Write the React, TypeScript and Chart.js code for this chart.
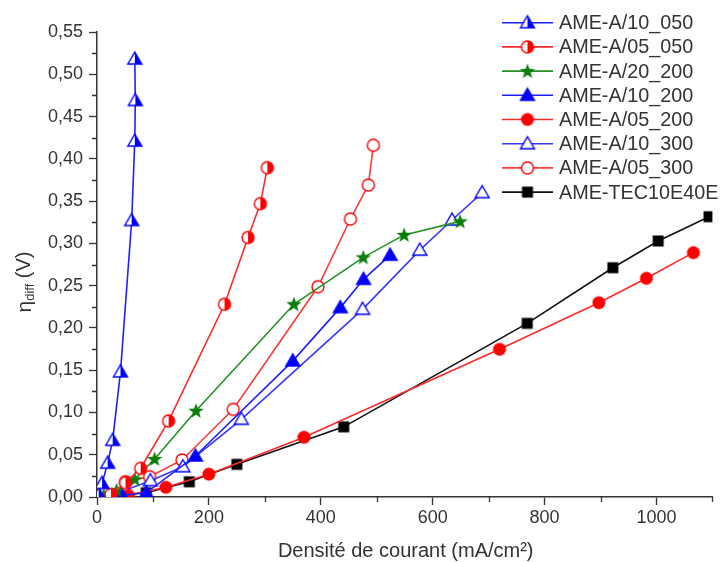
import React, { useEffect, useRef } from "react";
import { Chart, registerables } from "chart.js";

Chart.register(...registerables);

// ---- data (x: mA/cm², y: V) ----
const s1x = [3, 9, 19, 28, 42, 62, 67.5, 68.5, 67.5];
const s1y = [0.003, 0.016, 0.040, 0.067, 0.148, 0.327, 0.421, 0.469, 0.518];

const s2x = [25, 51, 78, 128, 228, 270, 292, 304.5];
const s2y = [0.003, 0.017, 0.034, 0.090, 0.228, 0.307, 0.347, 0.3895];

const s3x = [12, 35, 67.5, 103, 177, 352, 476, 549, 649];
const s3y = [0.002, 0.008, 0.021, 0.045, 0.102, 0.228, 0.2835, 0.310, 0.326];

const s4x = [45, 88, 176, 350, 435, 476.4, 524];
const s4y = [0.002, 0.005, 0.0485, 0.161, 0.224, 0.2575, 0.286];

const s5x = [56, 123, 200, 370, 719.5, 897, 982, 1066];
const s5y = [0.002, 0.0115, 0.027, 0.0706, 0.1747, 0.2298, 0.2587, 0.289];

const s6x = [50, 95.5, 153.4, 258, 474.7, 577, 634.7, 688.5];
const s6y = [0.008, 0.0193, 0.0358, 0.0919, 0.222, 0.292, 0.3276, 0.36];

const s7x = [51, 94, 152, 243.5, 395, 453, 485, 494];
const s7y = [0.018, 0.024, 0.0438, 0.1037, 0.2487, 0.3288, 0.369, 0.416];

const s8x = [30, 88, 165, 250, 441, 769, 922, 1003, 1094];
const s8y = [0.0024, 0.005, 0.018, 0.0386, 0.083, 0.2054, 0.2712, 0.3028, 0.3315];

const seriesNames = [
  "AME-A/10_050",
  "AME-A/05_050",
  "AME-A/20_200",
  "AME-A/10_200",
  "AME-A/05_200",
  "AME-A/10_300",
  "AME-A/05_300",
  "AME-TEC10E40E",
];

const xTickValues = [0, 200, 400, 600, 800, 1000];
const xMinorValues = [100, 300, 500, 700, 900, 1100];
const yMinorValues = [0.025, 0.075, 0.125, 0.175, 0.225, 0.275, 0.325, 0.375, 0.425, 0.475, 0.525];

const FONT = '"Liberation Sans", Arial, sans-serif';
const TEXT = "#333333";

const BLUE = "#0000ff";
const RED = "#ff0000";
const GREEN = "#0a7d0a";
const BLACK = "#000000";

function makeMarker(kind: string, color: string): HTMLCanvasElement {
  const s = 18;
  const c = document.createElement("canvas");
  c.width = s;
  c.height = s;
  const g = c.getContext("2d")!;
  const m = s / 2;
  g.lineWidth = 1.4;
  g.strokeStyle = color;
  g.fillStyle = color;
  const tri = () => {
    g.beginPath();
    g.moveTo(m, m - 7);
    g.lineTo(m + 7, m + 5);
    g.lineTo(m - 7, m + 5);
    g.closePath();
  };
  const circ = (r: number) => {
    g.beginPath();
    g.arc(m, m, r, 0, Math.PI * 2);
  };
  const half = (shape: () => void) => {
    shape();
    g.fillStyle = "#ffffff";
    g.fill();
    g.save();
    g.beginPath();
    g.rect(m, 0, m, s);
    g.clip();
    shape();
    g.fillStyle = color;
    g.fill();
    g.restore();
    shape();
    g.stroke();
  };
  switch (kind) {
    case "tri":
      tri();
      g.fill();
      g.stroke();
      break;
    case "triOpen":
      tri();
      g.fillStyle = "#ffffff";
      g.fill();
      g.stroke();
      break;
    case "triHalf":
      half(tri);
      break;
    case "circle":
      circ(6.5);
      g.fill();
      break;
    case "circleOpen":
      circ(6);
      g.fillStyle = "#ffffff";
      g.fill();
      g.stroke();
      break;
    case "circleHalf":
      half(() => circ(6));
      break;
    case "square":
      g.fillRect(m - 5.5, m - 5.5, 11, 11);
      break;
    case "star": {
      g.beginPath();
      for (let i = 0; i < 10; i++) {
        const r = i % 2 === 0 ? 8 : 3.3;
        const a = -Math.PI / 2 + (i * Math.PI) / 5;
        const px = m + r * Math.cos(a);
        const py = m + 0.5 + r * Math.sin(a);
        if (i === 0) g.moveTo(px, py);
        else g.lineTo(px, py);
      }
      g.closePath();
      g.fill();
      break;
    }
  }
  return c;
}

const pts = (xs: number[], ys: number[]) => xs.map((x, i) => ({ x, y: ys[i] }));

export default function App() {
  const ref = useRef<HTMLCanvasElement | null>(null);

  useEffect(() => {
    if (!ref.current) return;
    const markers = [
      makeMarker("triHalf", BLUE),
      makeMarker("circleHalf", RED),
      makeMarker("star", GREEN),
      makeMarker("tri", BLUE),
      makeMarker("circle", RED),
      makeMarker("triOpen", BLUE),
      makeMarker("circleOpen", RED),
      makeMarker("square", BLACK),
    ];
    const lineColors = ["#1f1fff", "#ff2a2a", "#249124", "#1f1fff", "#ff2a2a", "#3a3aff", "#ff3a3a", "#111111"];
    const xs = [s1x, s2x, s3x, s4x, s5x, s6x, s7x, s8x];
    const ys = [s1y, s2y, s3y, s4y, s5y, s6y, s7y, s8y];

    const datasets = seriesNames.map((name, i) => ({
      label: name,
      data: pts(xs[i], ys[i]),
      showLine: true,
      borderColor: lineColors[i],
      borderWidth: 1.6,
      pointStyle: markers[i] as any,
      pointRadius: 7,
      tension: 0,
    }));

    const extras = {
      id: "extras",
      afterDraw(chart: any) {
        const ctx = chart.ctx;
        const xs = chart.scales.x;
        const ysc = chart.scales.y;
        const area = chart.chartArea;
        ctx.save();
        // minor ticks
        ctx.strokeStyle = TEXT;
        ctx.lineWidth = 1.3;
        ctx.beginPath();
        yMinorValues.forEach((v) => {
          const p = Math.round(ysc.getPixelForValue(v)) + 0.5;
          ctx.moveTo(area.left - 5, p);
          ctx.lineTo(area.left, p);
        });
        xMinorValues.forEach((v) => {
          const p = Math.round(xs.getPixelForValue(v)) + 0.5;
          ctx.moveTo(p, area.bottom);
          ctx.lineTo(p, area.bottom + 5);
        });
        ctx.stroke();

        // x title
        ctx.fillStyle = TEXT;
        ctx.font = `20px ${FONT}`;
        ctx.textAlign = "center";
        ctx.textBaseline = "middle";
        ctx.fillText("Densité de courant (mA/cm²)", (area.left + area.right) / 2 + 1, 551);

        // y title with subscript
        ctx.save();
        ctx.translate(25, 282);
        ctx.rotate(-Math.PI / 2);
        ctx.textAlign = "left";
        const f1 = `21px ${FONT}`;
        const f2 = `13px ${FONT}`;
        const f3 = `20px ${FONT}`;
        ctx.font = f1;
        const w1 = ctx.measureText("η").width;
        ctx.font = f2;
        const w2 = ctx.measureText("diff").width;
        ctx.font = f3;
        const w3 = ctx.measureText(" (V)").width;
        let x0 = -(w1 + w2 + w3) / 2;
        ctx.font = f1;
        ctx.fillText("η", x0, 0);
        x0 += w1;
        ctx.font = f2;
        ctx.fillText("diff", x0, 5);
        x0 += w2;
        ctx.font = f3;
        ctx.fillText(" (V)", x0, -1);
        ctx.restore();

        // legend
        ctx.font = `19.8px ${FONT}`;
        ctx.textAlign = "left";
        ctx.textBaseline = "middle";
        chart.data.datasets.forEach((ds: any, i: number) => {
          const y = 22.7 + i * 24.2;
          ctx.strokeStyle = ds.borderColor;
          ctx.lineWidth = 1.6;
          ctx.beginPath();
          ctx.moveTo(502, y);
          ctx.lineTo(553, y);
          ctx.stroke();
          const mk = ds.pointStyle as HTMLCanvasElement;
          ctx.drawImage(mk, 527.5 - mk.width / 2, y - mk.height / 2);
          ctx.fillStyle = TEXT;
          ctx.fillText(ds.label, 559, y + 1);
        });
        ctx.restore();
      },
    };

    const chart = new Chart(ref.current, {
      type: "scatter",
      data: { datasets: datasets as any },
      options: {
        animation: false,
        responsive: false,
        layout: { padding: { top: 32, right: 5, left: 0, bottom: 0 } },
        plugins: { legend: { display: false }, tooltip: { enabled: false } },
        scales: {
          x: {
            type: "linear",
            min: 0,
            max: 1100,
            afterBuildTicks: (s: any) => {
              s.ticks = xTickValues.map((v) => ({ value: v }));
            },
            afterFit: (s: any) => {
              s.height = 65;
            },
            ticks: {
              color: TEXT,
              font: { size: 18, family: FONT },
              padding: 2,
              maxRotation: 0,
              callback: (v: any) => String(v),
            },
            grid: { drawOnChartArea: false, drawTicks: true, tickLength: 8, color: TEXT, tickWidth: 1.3 },
            border: { color: TEXT, width: 1.5 },
          },
          y: {
            type: "linear",
            min: 0,
            max: 0.55,
            afterFit: (s: any) => {
              s.width = 97;
            },
            ticks: {
              stepSize: 0.05,
              color: TEXT,
              font: { size: 18, family: FONT },
              padding: 6,
              callback: (v: any) => Number(v).toFixed(2).replace(".", ","),
            },
            grid: { drawOnChartArea: false, drawTicks: true, tickLength: 8, color: TEXT, tickWidth: 1.3 },
            border: { color: TEXT, width: 1.5 },
          },
        },
      },
      plugins: [extras],
    });
    return () => chart.destroy();
  }, []);

  return (
    <div style={{ position: "absolute", left: 0, top: 0, width: 721, height: 562, background: "#fff" }}>
      <canvas ref={ref} width={721} height={562} style={{ display: "block" }} />
    </div>
  );
}
